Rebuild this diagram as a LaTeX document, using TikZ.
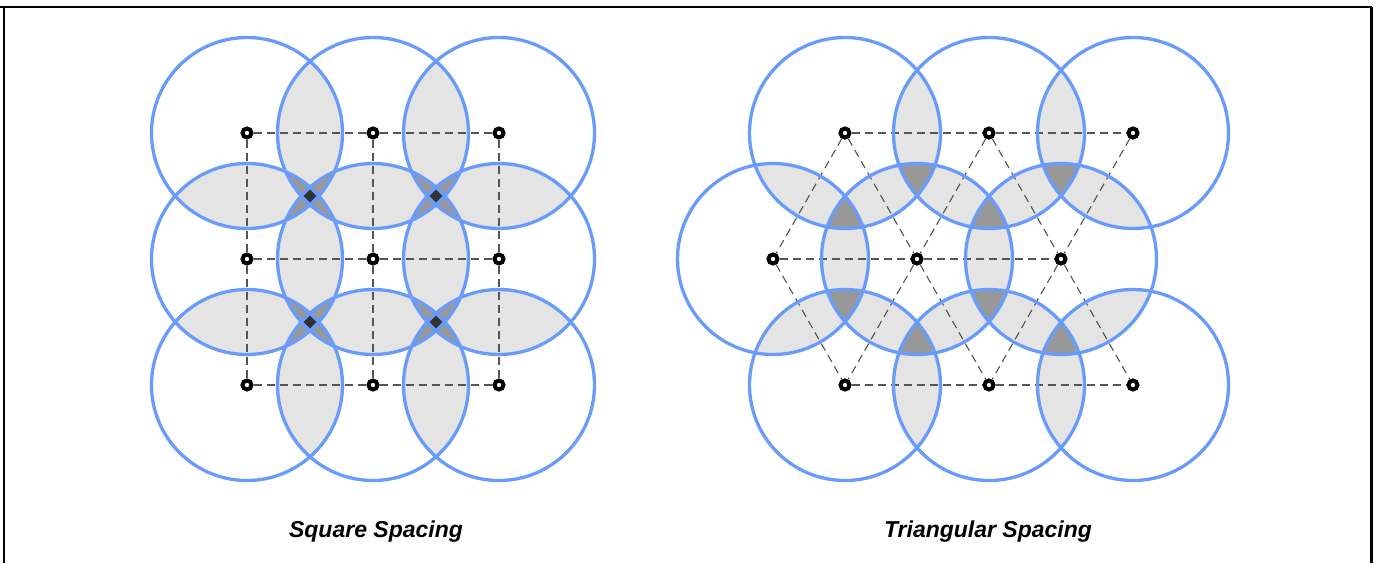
\documentclass[tikz,border=0pt]{standalone}
\usepackage{fontspec}
\setmainfont{Liberation Sans}
\definecolor{ring}{RGB}{105,155,250}
\definecolor{lensgray}{RGB}{228,228,228}
\definecolor{trigray}{RGB}{152,152,152}
\definecolor{quadgray}{RGB}{50,50,50}
\definecolor{dashgray}{RGB}{85,85,85}
\pgfdeclarelayer{bg}
\pgfsetlayers{bg,main}
\tikzset{
  pt/.style={circle,draw=black,fill=white,line width=4pt,inner sep=0pt,minimum size=9pt},
  ringline/.style={draw=ring,line width=3.3pt},
  grid/.style={draw=dashgray,line width=1.1pt,dash pattern=on 8pt off 5pt},
  frameline/.style={draw=black,line width=2.2pt},
  caption/.style={font=\fontsize{23}{27}\selectfont\bfseries\itshape,anchor=base}
}
\newcommand{\Rad}{95.5pt}
\begin{document}
\begin{tikzpicture}[x=1pt,y=-1pt]
\useasboundingbox (0,0) rectangle (1380,563);
% frame
\draw[frameline] (0,7) -- (1371.5,7);
\draw[frameline] (4,7) -- (4,563);
\draw[frameline] (1371.5,7) -- (1371.5,563);
% square spacing points
\node[pt] (s1) at (247,133) {};
\node[pt] (s2) at (373,133) {};
\node[pt] (s3) at (499,133) {};
\node[pt] (s4) at (247,259) {};
\node[pt] (s5) at (373,259) {};
\node[pt] (s6) at (499,259) {};
\node[pt] (s7) at (247,385) {};
\node[pt] (s8) at (373,385) {};
\node[pt] (s9) at (499,385) {};
% triangular spacing points
\node[pt] (t1) at (845,133) {};
\node[pt] (t2) at (989,133) {};
\node[pt] (t3) at (1133,133) {};
\node[pt] (t4) at (773,259) {};
\node[pt] (t5) at (917,259) {};
\node[pt] (t6) at (1061,259) {};
\node[pt] (t7) at (845,385) {};
\node[pt] (t8) at (989,385) {};
\node[pt] (t9) at (1133,385) {};
\begin{pgfonlayer}{bg}
% pairwise overlaps
\foreach \p in {s,t}{
  \foreach \i in {1,...,9}{
    \foreach \j in {1,...,9}{
      \ifnum\i=\j\relax\else
        \begin{scope}
          \clip (\p\i.center) circle[radius=\Rad];
          \fill[lensgray] (\p\j.center) circle[radius=\Rad];
        \end{scope}
      \fi
    }
  }
}
% triple overlaps
\foreach \p in {s,t}{
  \foreach \i in {1,...,9}{
    \foreach \j in {1,...,9}{
      \ifnum\i<\j\relax
        \foreach \k in {1,...,9}{
          \ifnum\j<\k\relax
            \begin{scope}
              \clip (\p\i.center) circle[radius=\Rad];
              \clip (\p\j.center) circle[radius=\Rad];
              \fill[trigray] (\p\k.center) circle[radius=\Rad];
            \end{scope}
          \fi
        }
      \fi
    }
  }
}
% quadruple overlaps (square spacing)
\foreach \a/\b/\c/\d in {1/2/4/5,2/3/5/6,4/5/7/8,5/6/8/9}{
  \begin{scope}
    \clip (s\a.center) circle[radius=\Rad];
    \clip (s\b.center) circle[radius=\Rad];
    \clip (s\c.center) circle[radius=\Rad];
    \fill[quadgray] (s\d.center) circle[radius=\Rad];
  \end{scope}
}
% dashed grid lines, square
\draw[grid] (s1) -- (s2) -- (s3);
\draw[grid] (s4) -- (s5) -- (s6);
\draw[grid] (s7) -- (s8) -- (s9);
\draw[grid] (s1) -- (s4) -- (s7);
\draw[grid] (s2) -- (s5) -- (s8);
\draw[grid] (s3) -- (s6) -- (s9);
% dashed grid lines, triangular
\draw[grid] (t1) -- (t2) -- (t3);
\draw[grid] (t4) -- (t5) -- (t6);
\draw[grid] (t7) -- (t8) -- (t9);
\foreach \a/\b in {t1/t4,t1/t5,t2/t5,t2/t6,t3/t6,t4/t7,t5/t7,t5/t8,t6/t8,t6/t9}{
  \draw[grid] (\a) -- (\b);
}
% rings
\foreach \p in {s,t}{
  \foreach \i in {1,...,9}{
    \draw[ringline] (\p\i.center) circle[radius=\Rad];
  }
}
\end{pgfonlayer}
% captions
\node[caption] (capS) at (376,537) {Square Spacing};
\node[caption] (capT) at (988,537) {Triangular Spacing};
\end{tikzpicture}
\end{document}
